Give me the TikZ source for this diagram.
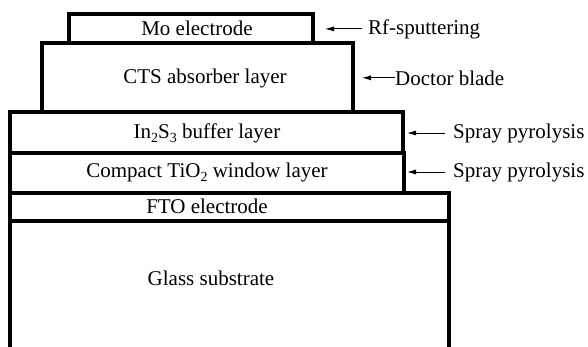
\documentclass[tikz,border=0pt]{standalone}
\usepackage{fontspec}
\setmainfont{Liberation Serif}
\usetikzlibrary{arrows.meta}
\newcommand{\lowsub}[1]{\raisebox{-0.45ex}{\fontsize{14}{14}\selectfont #1}}

\begin{document}
\begin{tikzpicture}[x=1pt,y=-1pt,font=\fontsize{21}{25}\selectfont,
    layer/.style={line width=3.5pt},
    txt/.style={inner sep=0pt,anchor=base},
    note/.style={inner sep=0pt,anchor=base west},
    arr/.style={line width=0.9pt,-{Latex[length=9pt,width=5pt]}}]
  \useasboundingbox[fill=white] (0,0) rectangle (588,346);
  \foreach \xa/\ya/\xb/\yb in {69/14/313/43, 42/43/353/112, 10/112/403/153,
      10/153/404/193, 10/193/449/221, 10/221/449/380}
    \draw[layer] (\xa,\ya) rectangle (\xb,\yb);
  \node[txt] (mo)    at (197,35)  {Mo electrode};
  \node[txt] (cts)   at (205,83)  {CTS absorber layer};
  \node[txt] (ins)   at (207,138) {In\lowsub{2}S\lowsub{3} buffer layer};
  \node[txt] (tio)   at (207,177) {Compact TiO\lowsub{2} window layer};
  \node[txt] (fto)   at (207,213) {FTO electrode};
  \node[txt] (glass) at (211,285) {Glass substrate};
  \coordinate (motip)  at (325,0);
  \coordinate (ctstip) at (362,0);
  \coordinate (instip) at (407,0);
  \coordinate (tiotip) at (407,0);
  \node[note] (rf)     at (368,34)  {Rf-sputtering};
  \node[note] (doctor) at (395,85)  {Doctor blade};
  \node[note] (spraya) at (453,138) {Spray pyrolysis};
  \node[note] (sprayb) at (453,177) {Spray pyrolysis};
  \draw[arr, shorten <=6pt] (rf.west) -- (rf.west -| motip);
  \draw[arr] (doctor.west) -- (doctor.west -| ctstip);
  \draw[arr, shorten <=8pt] (spraya.west) -- (spraya.west -| instip);
  \draw[arr, shorten <=8pt] (sprayb.west) -- (sprayb.west -| tiotip);
\end{tikzpicture}
\end{document}
